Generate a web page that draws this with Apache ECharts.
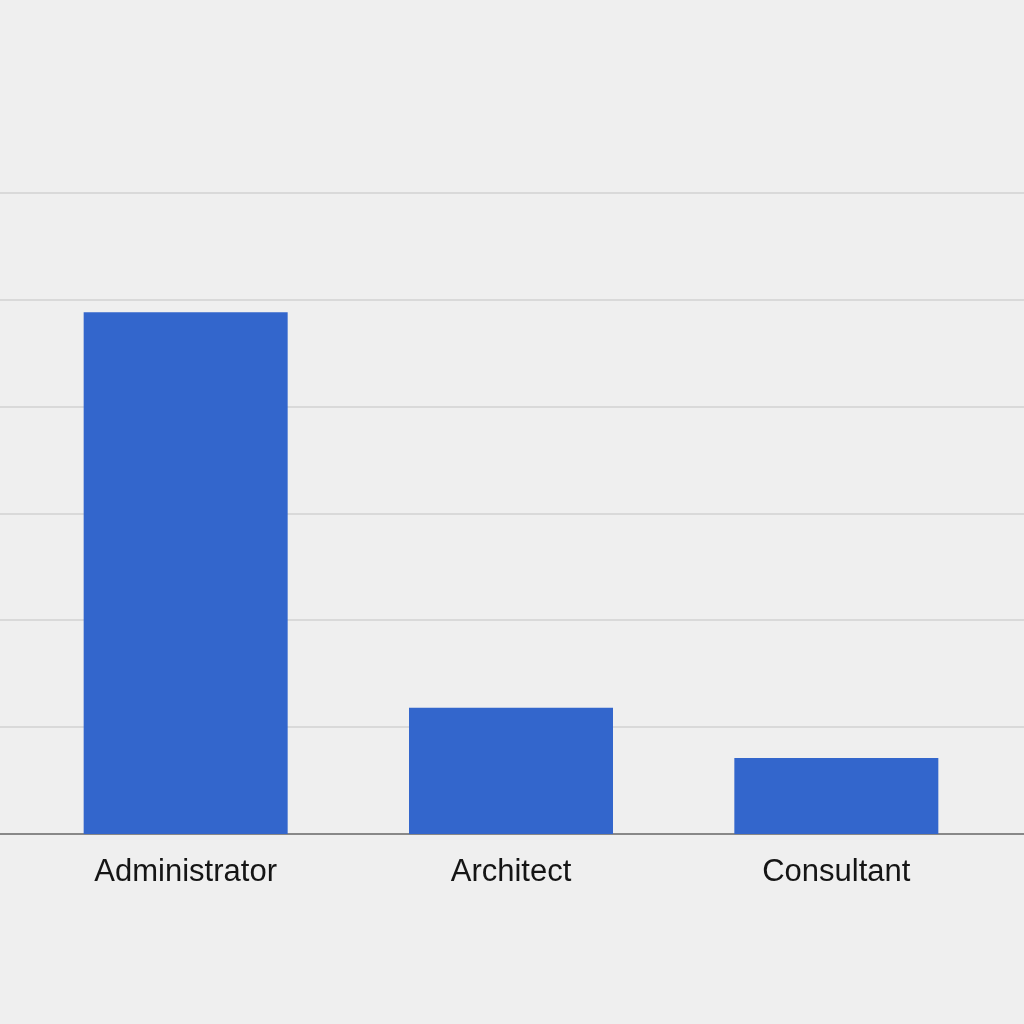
<!DOCTYPE html>
<html>
<head>
<meta charset="utf-8">
<script src="https://cdn.jsdelivr.net/npm/echarts@6/dist/echarts.min.js"></script>
<style>
html,body{margin:0;padding:0;background:#efefef;}
#c{width:1024px;height:1024px;}
</style>
</head>
<body>
<div id="c"></div>
<script>
const categories = ['Administrator', 'Architect', 'Consultant'];
const values = [48.8, 11.8, 7.1];
const yMin = 0, yMax = 60, yInterval = 10;

const chart = echarts.init(document.getElementById('c'), null, {renderer: 'canvas'});
chart.setOption({
  backgroundColor: '#efefef',
  animation: false,
  grid: [
    {left: 23, right: 25, top: 192.5, bottom: 190, containLabel: false},
    {left: 0, right: 0, top: 192.5, bottom: 190, containLabel: false}
  ],
  xAxis: [
    {
      type: 'category', gridIndex: 0, data: categories,
      axisLine: {show: false}, axisTick: {show: false},
      axisLabel: {fontFamily: 'Liberation Sans, Arial, sans-serif', fontSize: 31, color: '#151515', margin: 23}
    },
    {
      type: 'value', gridIndex: 1, min: 0, max: 1,
      axisLine: {show: true, onZero: false, lineStyle: {color: '#888', width: 2}},
      axisTick: {show: false}, axisLabel: {show: false}, splitLine: {show: false}
    }
  ],
  yAxis: [
    {
      type: 'value', gridIndex: 0, min: yMin, max: yMax, interval: yInterval,
      axisLine: {show: false}, axisTick: {show: false}, axisLabel: {show: false},
      splitLine: {show: false}
    },
    {
      type: 'value', gridIndex: 1, min: yMin, max: yMax, interval: yInterval,
      axisLine: {show: false}, axisTick: {show: false}, axisLabel: {show: false},
      splitLine: {show: true, lineStyle: {color: '#d9d9d9', width: 2}}
    }
  ],
  series: [{
    type: 'bar', xAxisIndex: 0, yAxisIndex: 0,
    data: values, barWidth: 204, z: 3,
    itemStyle: {color: '#3366cc'}
  }]
});
</script>
</body>
</html>
